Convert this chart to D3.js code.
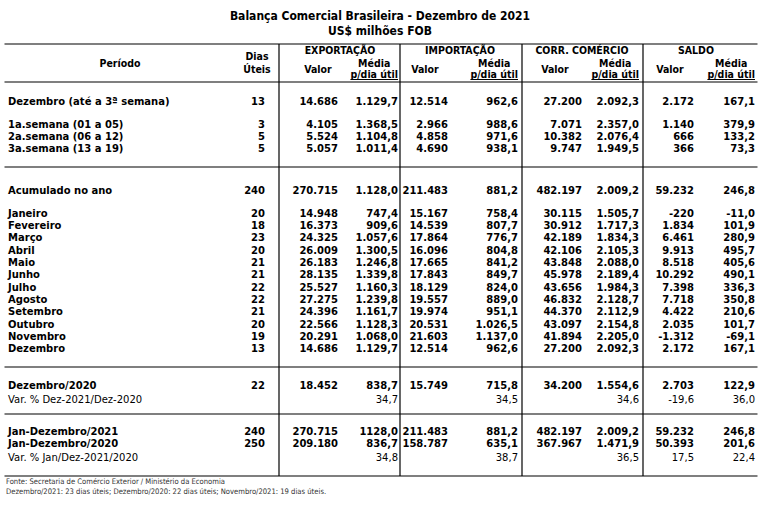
<!DOCTYPE html>
<html>
<head>
<meta charset="utf-8">
<script src="https://cdn.jsdelivr.net/npm/d3@7"></script>
<style>
body{margin:0;background:#fff}
.t{font-family:"DejaVu Sans Condensed","DejaVu Sans",sans-serif;font-weight:bold;font-stretch:condensed}
.c{font-family:"DejaVu Sans",Verdana,sans-serif;font-size:10px}
</style>
</head>
<body>
<svg id="chart"></svg>
<script>
// textos da tabela
var titulo = ["Balança Comercial Brasileira - Dezembro de 2021", "US$ milhões FOB"];
var grupos = ["EXPORTAÇÃO", "IMPORTAÇÃO", "CORR. COMÉRCIO", "SALDO"];
var notas = ["Fonte: Secretaria de Comércio Exterior / Ministério da Economia",
	"Dezembro/2021: 23 dias úteis; Dezembro/2020: 22 dias úteis; Novembro/2021: 19 dias úteis."];

// linhas por bloco (entre os traços horizontais)
var blocos = [5, 14, 2, 3];

var periodo = ["Dezembro (até a 3ª semana)", "", "1a.semana (01 a 05)", "2a.semana (06 a 12)", "3a.semana (13 a 19)",
	"Acumulado no ano", "", "Janeiro", "Fevereiro", "Março", "Abril", "Maio", "Junho", "Julho", "Agosto", "Setembro", "Outubro", "Novembro", "Dezembro",
	"Dezembro/2020", "Var. % Dez-2021/Dez-2020",
	"Jan-Dezembro/2021", "Jan-Dezembro/2020", "Var. % Jan/Dez-2021/2020"];
var diasUteis = ["13", "", "3", "5", "5", "240", "", "20", "18", "23", "20", "21", "21", "22", "22", "21", "20", "19", "13", "22", "", "240", "250", ""];
var expValor = ["14.686", "", "4.105", "5.524", "5.057", "270.715", "", "14.948", "16.373", "24.325", "26.009", "26.183", "28.135", "25.527", "27.275", "24.396", "22.566", "20.291", "14.686", "18.452", "", "270.715", "209.180", ""];
var expMedia = ["1.129,7", "", "1.368,5", "1.104,8", "1.011,4", "1.128,0", "", "747,4", "909,6", "1.057,6", "1.300,5", "1.246,8", "1.339,8", "1.160,3", "1.239,8", "1.161,7", "1.128,3", "1.068,0", "1.129,7", "838,7", "34,7", "1128,0", "836,7", "34,8"];
var impValor = ["12.514", "", "2.966", "4.858", "4.690", "211.483", "", "15.167", "14.539", "17.864", "16.096", "17.665", "17.843", "18.129", "19.557", "19.974", "20.531", "21.603", "12.514", "15.749", "", "211.483", "158.787", ""];
var impMedia = ["962,6", "", "988,6", "971,6", "938,1", "881,2", "", "758,4", "807,7", "776,7", "804,8", "841,2", "849,7", "824,0", "889,0", "951,1", "1.026,5", "1.137,0", "962,6", "715,8", "34,5", "881,2", "635,1", "38,7"];
var corValor = ["27.200", "", "7.071", "10.382", "9.747", "482.197", "", "30.115", "30.912", "42.189", "42.106", "43.848", "45.978", "43.656", "46.832", "44.370", "43.097", "41.894", "27.200", "34.200", "", "482.197", "367.967", ""];
var corMedia = ["2.092,3", "", "2.357,0", "2.076,4", "1.949,5", "2.009,2", "", "1.505,7", "1.717,3", "1.834,3", "2.105,3", "2.088,0", "2.189,4", "1.984,3", "2.128,7", "2.112,9", "2.154,8", "2.205,0", "2.092,3", "1.554,6", "34,6", "2.009,2", "1.471,9", "36,5"];
var saldoValor = ["2.172", "", "1.140", "666", "366", "59.232", "", "-220", "1.834", "6.461", "9.913", "8.518", "10.292", "7.398", "7.718", "4.422", "2.035", "-1.312", "2.172", "2.703", "-19,6", "59.232", "50.393", "17,5"];
var saldoMedia = ["167,1", "", "379,9", "133,2", "73,3", "246,8", "", "-11,0", "101,9", "280,9", "495,7", "405,6", "490,1", "336,3", "350,8", "210,6", "101,7", "-69,1", "167,1", "122,9", "36,0", "246,8", "201,6", "22,4"];

var colunas = [diasUteis, expValor, expMedia, impValor, impMedia, corValor, corMedia, saldoValor, saldoMedia];

var width = 766, height = 516;
var svg = d3.select("#chart").attr("width", width).attr("height", height);
svg.append("rect").attr("width", width).attr("height", height).attr("fill", "#fff");

// layout
var left = 4.5, right = 757.5;
var regras = [44, 82, 167, 367, 414, 476];
var padBloco = [19, 23, 18, 17.5];
var xCol = d3.scaleOrdinal().domain(d3.range(9)).range([265, 338, 398, 448, 518, 582, 639, 694, 755]);
var xDiv = d3.scaleOrdinal().domain(d3.range(4)).range([279, 400, 522, 643]);
var xGrupo = d3.scaleOrdinal().domain(grupos).range([340, 460, 582, 696]);
var xValor = d3.scaleOrdinal().domain(d3.range(4)).range([318, 425, 555, 670]);

// posição y de cada linha
var rowY = [], k = 0;
blocos.forEach(function(n, b){
	var y = regras[b+1] + padBloco[b];
	for(var i=0;i<n;i++){
		if(i>0){
			var prev = periodo[k-1], cur = periodo[k];
			if(prev=="") y += 11;
			else if(cur.indexOf("Var.")==0) y += 14;
			else y += 12.3;
		}
		rowY.push(y);
		k++;
	}
});

// título
svg.selectAll(".titulo").data(titulo).enter().append("text")
	.attr("class", "t titulo")
	.attr("x", 380).attr("y", function(d,i){ return 16 + i*15; })
	.attr("dy", "0.35em").attr("text-anchor", "middle")
	.style("font-size", "12px")
	.text(function(d){ return d; });

// traços
svg.selectAll(".regra").data(regras).enter().append("line")
	.attr("x1", left).attr("x2", right)
	.attr("y1", function(d){ return d; }).attr("y2", function(d){ return d; })
	.attr("stroke", "#000").attr("stroke-width", 1.2);
svg.selectAll(".div").data(d3.range(4)).enter().append("line")
	.attr("x1", xDiv).attr("x2", xDiv)
	.attr("y1", regras[0]).attr("y2", regras[regras.length-1])
	.attr("stroke", "#000").attr("stroke-width", 1.2);

// cabeçalho
var h = svg.append("g").attr("class", "t").style("font-size", "10.5px");
h.append("text").attr("x", 120).attr("y", 63).attr("dy", "0.35em").attr("text-anchor", "middle").text("Período");
h.append("text").attr("x", 257).attr("y", 56).attr("dy", "0.35em").attr("text-anchor", "middle").text("Dias");
h.append("text").attr("x", 257).attr("y", 69).attr("dy", "0.35em").attr("text-anchor", "middle").text("Úteis");
grupos.forEach(function(g, i){
	h.append("text").attr("x", xGrupo(g)).attr("y", 50).attr("dy", "0.35em").attr("text-anchor", "middle").text(g);
	h.append("text").attr("x", xValor(i)).attr("y", 69).attr("dy", "0.35em").attr("text-anchor", "middle").text("Valor");
	var p = h.append("text").attr("x", xCol(2+2*i)).attr("y", 74.5).attr("dy", "0.35em").attr("text-anchor", "end").text("p/dia útil");
	var bb = p.node().getBBox();
	h.append("text").attr("x", bb.x + bb.width/2).attr("y", 63).attr("dy", "0.35em").attr("text-anchor", "middle").text("Média");
	h.append("line").attr("x1", bb.x).attr("x2", bb.x + bb.width).attr("y1", 79.5).attr("y2", 79.5)
		.attr("stroke", "#000").attr("stroke-width", 1);
});

// linhas de dados
var corpo = svg.append("g").attr("class", "c");
periodo.forEach(function(p, r){
	if(p=="") return;
	var isVar = p.indexOf("Var.")==0;
	var row = corpo.append("g").attr("transform", "translate(0," + rowY[r] + ")")
		.style("font-weight", isVar ? "normal" : "bold");
	row.append("text").attr("x", 8).attr("dy", "0.35em").text(p);
	colunas.forEach(function(col, c){
		if(col[r]=="") return;
		row.append("text").attr("x", xCol(c)).attr("dy", "0.35em").attr("text-anchor", "end").text(col[r]);
	});
});

// notas
svg.selectAll(".nota").data(notas).enter().append("text")
	.attr("x", 6).attr("y", function(d,i){ return 481 + i*10; })
	.attr("dy", "0.35em")
	.style("font-family", "'DejaVu Sans Condensed','DejaVu Sans',sans-serif")
	.style("font-size", "7.6px").attr("fill", "#333")
	.text(function(d){ return d; });
</script>
</body>
</html>
